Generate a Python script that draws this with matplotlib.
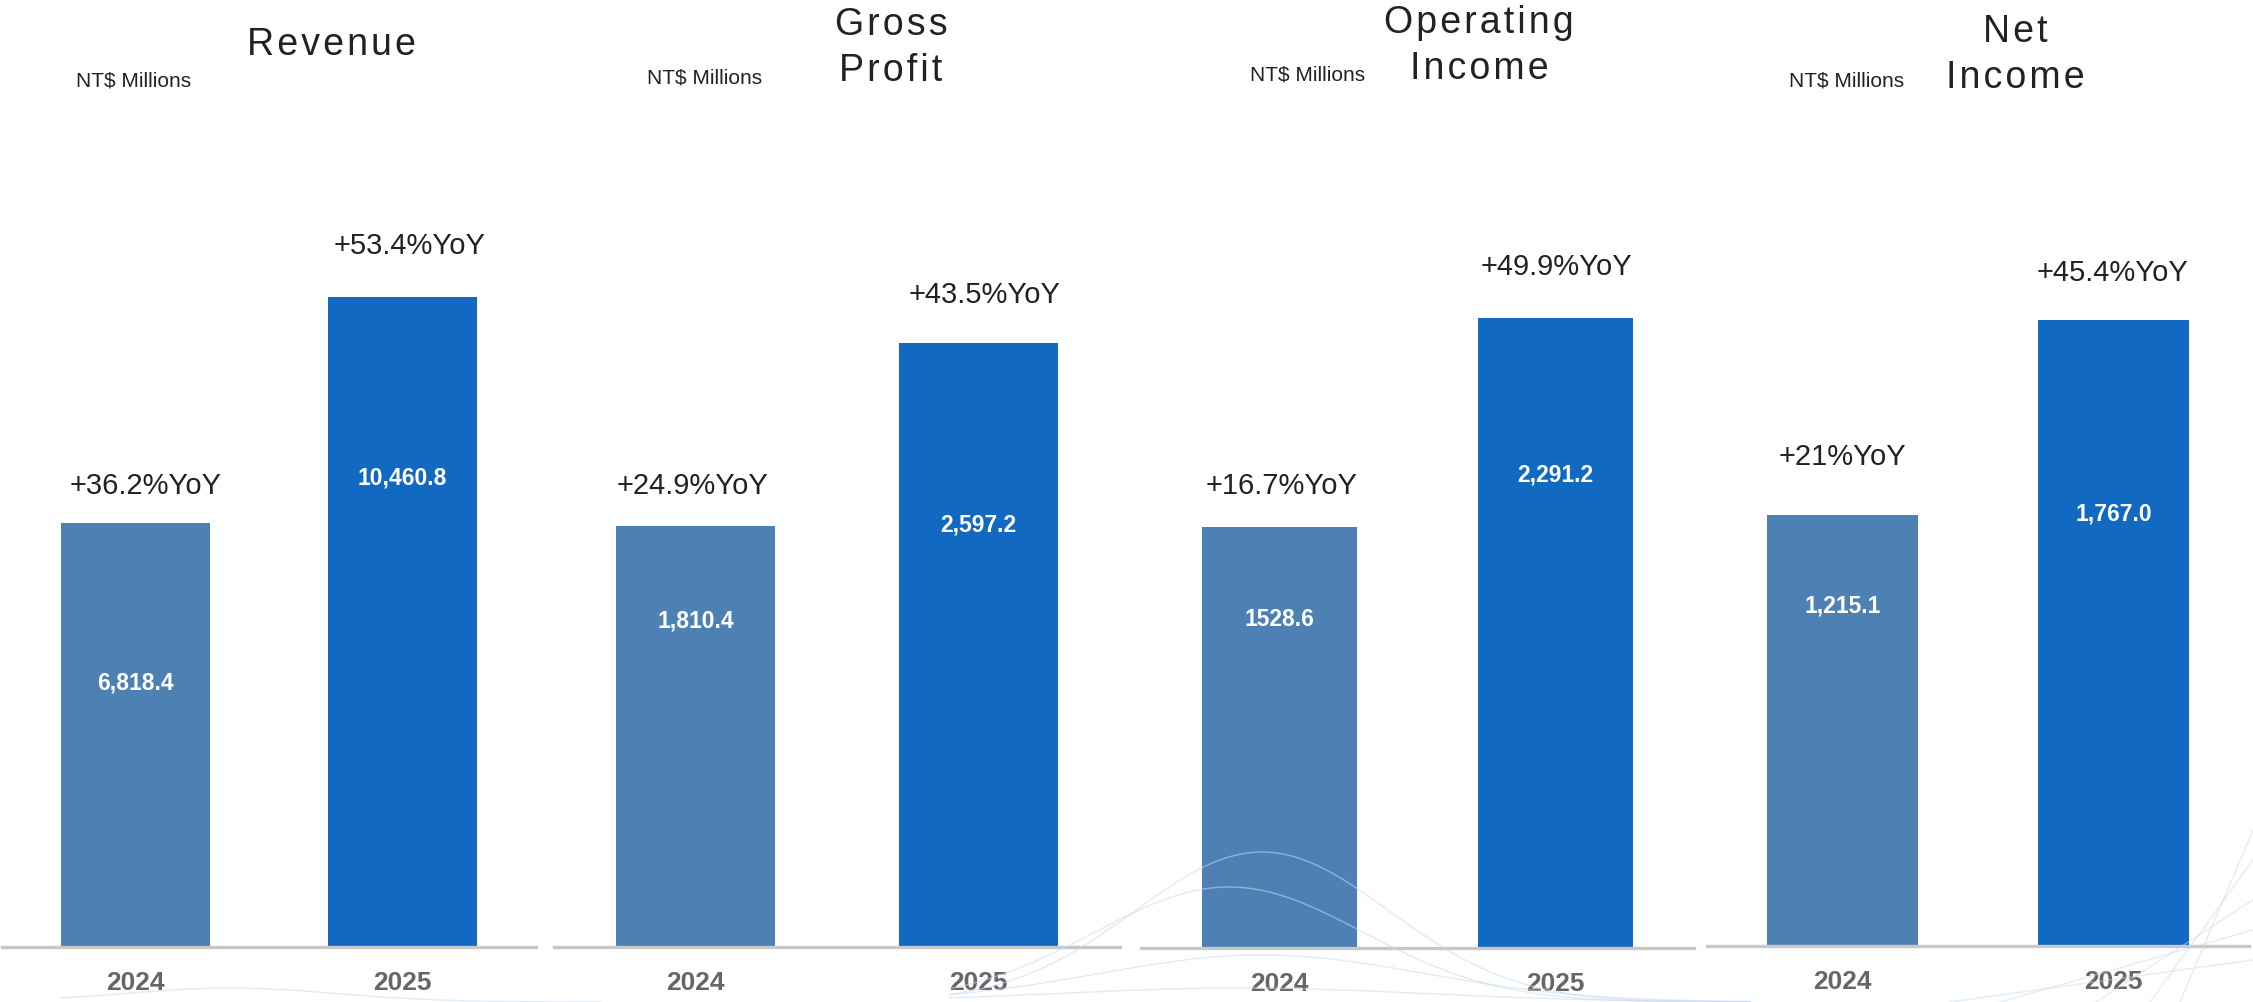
import numpy as np
import matplotlib
matplotlib.use("Agg")
import matplotlib.pyplot as plt

plt.rcParams['font.family'] = ['Liberation Sans', 'DejaVu Sans']

# data
titles = ['Revenue', 'Gross\nProfit', 'Operating\nIncome', 'Net\nIncome']
years = ['2024', '2025']
values_2024 = [6818.4, 1810.4, 1528.6, 1215.1]
values_2025 = [10460.8, 2597.2, 2291.2, 1767.0]
labels_2024 = ['6,818.4', '1,810.4', '1528.6', '1,215.1']
labels_2025 = ['10,460.8', '2,597.2', '2,291.2', '1,767.0']
yoy_2024 = ['+36.2%YoY', '+24.9%YoY', '+16.7%YoY', '+21%YoY']
yoy_2025 = ['+53.4%YoY', '+43.5%YoY', '+49.9%YoY', '+45.4%YoY']
unit = 'NT$ Millions'

# layout (figure pixels)
W, H = 2253, 1002
panel_x = [(2, 536), (554, 1120), (1141, 1694), (1707, 2249)]
baseline = [947, 947, 948, 946]
ymax = [15240, 4075, 3445, 2670]
title_xy = [(331, 45), (891, 48), (1479, 46), (2015, 55)]
unit_xy = [(134, 81), (705, 78), (1308, 75), (1847, 81)]
val_frac = [(0.623, 0.722), (0.774, 0.70), (0.78, 0.75), (0.79, 0.69)]
yoy_off = [(37, 51), (40, 48), (41, 51), (58, 47)]
yoy_dx = [(10, 7), (-3, 6), (2, 1), (0, -1)]

c2024 = '#4e81b3'
c2025 = '#1169c1'


def spaced(s):
    # titles in the original are set with loose letter spacing
    return '\n'.join('\u200a'.join(line) for line in s.split('\n'))


fig = plt.figure(figsize=(W / 100, H / 100), dpi=100)

for i in range(4):
    x0, x1 = panel_x[i]
    b = baseline[i]
    ax = fig.add_axes([x0 / W, 1 - b / H, (x1 - x0) / W, b / H])
    vals = [values_2024[i], values_2025[i]]
    ax.bar([0, 1], vals, width=0.56, color=[c2024, c2025], zorder=2)
    ax.set_xlim(-0.5, 1.5)
    ax.set_ylim(0, ymax[i])
    ax.patch.set_visible(False)
    for s in ['top', 'right', 'left']:
        ax.spines[s].set_visible(False)
    ax.spines['bottom'].set_color('#c8c8c8')
    ax.spines['bottom'].set_linewidth(2.4)
    ax.set_yticks([])
    ax.set_xticks([0, 1])
    ax.set_xticklabels(years, fontsize=19, fontweight='bold', color='#666666')
    ax.tick_params(axis='x', length=0, pad=17)

    vlabels = [labels_2024[i], labels_2025[i]]
    ylabels = [yoy_2024[i], yoy_2025[i]]
    for j in range(2):
        ax.text(j, vals[j] * val_frac[i][j], vlabels[j], ha='center', va='center',
                fontsize=16.5, fontweight='bold', color='white', zorder=3)
        ax.annotate(ylabels[j], (j, vals[j]),
                    xytext=(yoy_dx[i][j] * 0.72, yoy_off[i][j] * 0.72),
                    textcoords='offset points', ha='center', va='center',
                    fontsize=21, color='#222222')

    fig.text(title_xy[i][0] / W, 1 - title_xy[i][1] / H, spaced(titles[i]),
             ha='center', va='center', fontsize=27, color='#222222',
             linespacing=1.35)
    fig.text(unit_xy[i][0] / W, 1 - unit_xy[i][1] / H, unit, ha='center',
             va='center', fontsize=15, color='#222222')

# faint decorative waves in the background
bg = fig.add_axes([0, 0, 1, 1], zorder=5)
bg.set_xlim(0, W)
bg.set_ylim(H, 0)
bg.axis('off')
wave_col = '#c9dbef'
xs = np.linspace(950, 1750, 300)
for px, amp, sig in [(1262, 150, 180), (1229, 115, 190), (1262, 47, 230), (1240, 14, 260)]:
    bg.plot(xs, H - amp * np.exp(-((xs - px) / sig) ** 2), color=wave_col, lw=1, alpha=0.55)
xl = np.linspace(60, 600, 200)
bg.plot(xl, H - 14 * np.exp(-((xl - 230) / 150) ** 2), color=wave_col, lw=1, alpha=0.55)
for x_start, y_end in [(1950, 960), (2000, 930), (2096, 900), (2150, 860), (2180, 830)]:
    bg.plot([x_start, W], [H, y_end], color=wave_col, lw=1, alpha=0.5)

fig.savefig('out.png', dpi=100)
